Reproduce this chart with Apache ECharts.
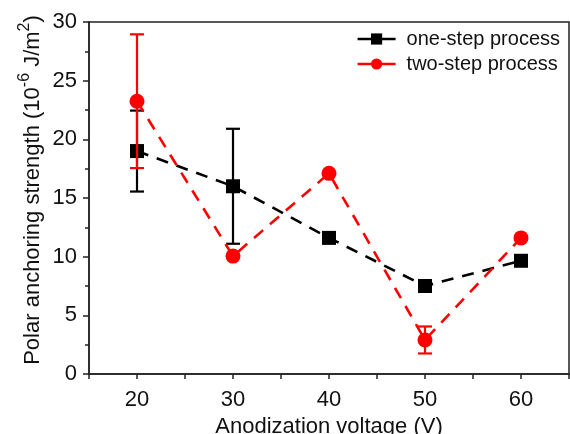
<!DOCTYPE html>
<html>
<head>
<meta charset="utf-8">
<script src="https://cdn.jsdelivr.net/npm/echarts@6/dist/echarts.min.js"></script>
<style>
  html, body { margin: 0; padding: 0; background: #fff; }
  #chart { width: 570px; height: 434px; }
</style>
</head>
<body>
<div id="chart"></div>
<script>
const voltages = [20, 30, 40, 50, 60];
const oneStep = [19.0, 16.0, 11.6, 7.5, 9.65];
const oneStepErr = [3.45, 4.9, 0, 0, 0];
const twoStep = [23.25, 10.05, 17.1, 2.9, 11.6];
const twoStepErr = [5.7, 0, 0, 1.15, 0];

const chart = echarts.init(document.getElementById("chart"));
const font = "Liberation Sans, Arial, sans-serif";
const axisColor = "#222";

function points(vals) {
  return voltages.map((v, i) => [v, vals[i]]);
}
function errData(vals, errs) {
  return voltages
    .map((v, i) => [v, vals[i] - errs[i], vals[i] + errs[i]])
    .filter((d, i) => errs[i] > 0);
}
// 误差棒
function errorBar(color) {
  return function (params, api) {
    const lo = api.coord([api.value(0), api.value(1)]);
    const hi = api.coord([api.value(0), api.value(2)]);
    const w = 7;
    const style = { stroke: color, lineWidth: 2.2 };
    return {
      type: "group",
      children: [
        { type: "line", shape: { x1: lo[0], y1: lo[1], x2: hi[0], y2: hi[1] }, style },
        { type: "line", shape: { x1: hi[0] - w, y1: hi[1], x2: hi[0] + w, y2: hi[1] }, style },
        { type: "line", shape: { x1: lo[0] - w, y1: lo[1], x2: lo[0] + w, y2: lo[1] }, style },
      ],
    };
  };
}

const option = {
  animation: false,
  grid: {
    left: 89, right: 1, top: 22, bottom: 60,
    outerBoundsMode: "none",
    containLabel: false,
    show: true, borderColor: axisColor, borderWidth: 1.5,
  },
  legend: {
    orient: "vertical",
    right: 5, top: 24,
    itemWidth: 38, itemHeight: 14, itemGap: 5,
    textStyle: { fontFamily: font, fontSize: 20, color: "#111", padding: [0, 0, 0, 6] },
    lineStyle: { type: "solid", width: 2.5 },
    data: ["one-step process", "two-step process"],
  },
  xAxis: {
    type: "value",
    min: 15, max: 65, interval: 5,
    name: "Anodization voltage (V)",
    nameLocation: "middle",
    nameGap: 42,
    nameMoveOverlap: false,
    nameTextStyle: { fontFamily: font, fontSize: 22, color: "#111" },
    axisLine: { lineStyle: { color: axisColor, width: 1.5 } },
    axisTick: { length: 5, lineStyle: { color: axisColor, width: 1.5 } },
    axisLabel: {
      margin: 15, fontFamily: font, fontSize: 22, color: "#111",
      formatter: (v) => (v % 10 === 0 && v >= 20 && v <= 60 ? String(v) : ""),
    },
    splitLine: { show: false },
  },
  yAxis: {
    type: "value",
    min: 0, max: 30, interval: 5,
    name: "{b|Polar anchoring strength (10}{s|-6}{b| J/m}{s|2}{b|)}",
    nameLocation: "middle",
    nameGap: 40,
    nameMoveOverlap: false,
    nameTextStyle: {
      fontFamily: font, color: "#111",
      padding: [0, 0, 0, 16],
      rich: {
        b: { fontFamily: font, fontSize: 22, lineHeight: 32, color: "#111" },
        s: { fontFamily: font, fontSize: 16, verticalAlign: "top", color: "#111" },
      },
    },
    axisLine: { show: true, lineStyle: { color: axisColor, width: 1.5 } },
    axisTick: { show: true, length: 6, lineStyle: { color: axisColor, width: 1.5 } },
    minorTick: { show: true, splitNumber: 2, length: 4, lineStyle: { color: axisColor, width: 1.5 } },
    axisLabel: { margin: 12, fontFamily: font, fontSize: 22, color: "#111" },
    splitLine: { show: false },
  },
  series: [
    {
      type: "custom",
      renderItem: errorBar("#000"),
      data: errData(oneStep, oneStepErr),
      encode: { x: 0, y: [1, 2] },
      z: 2,
    },
    {
      name: "one-step process",
      type: "line",
      data: points(oneStep),
      symbol: "rect",
      symbolSize: 14,
      itemStyle: { color: "#000" },
      lineStyle: { color: "#000", width: 2.6, type: [12, 9] },
      z: 3,
    },
    {
      type: "custom",
      renderItem: errorBar("#ff0000"),
      data: errData(twoStep, twoStepErr),
      encode: { x: 0, y: [1, 2] },
      z: 4,
    },
    {
      name: "two-step process",
      type: "line",
      data: points(twoStep),
      symbol: "circle",
      symbolSize: 15,
      itemStyle: { color: "#ff0000" },
      lineStyle: { color: "#ff0000", width: 2.6, type: [12, 9] },
      z: 5,
    },
  ],
};

chart.setOption(option);
</script>
</body>
</html>
